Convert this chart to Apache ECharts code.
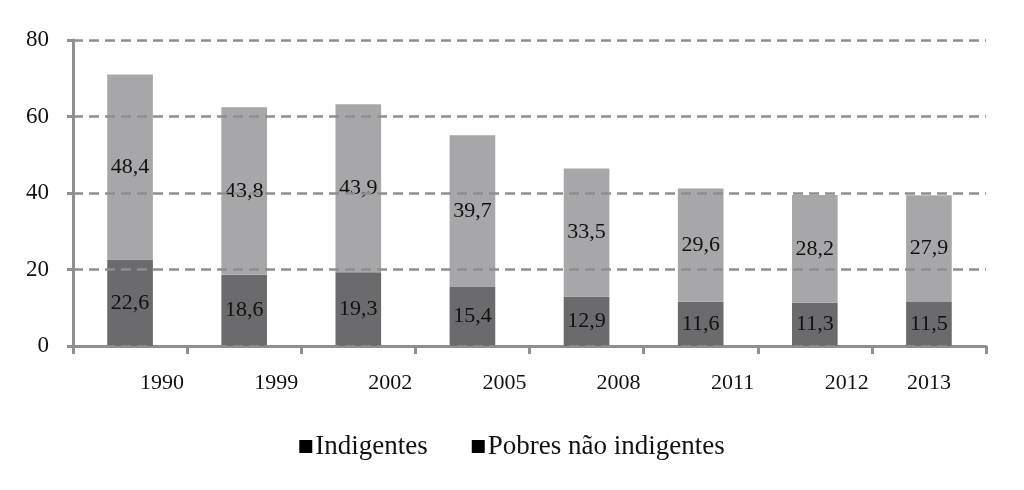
<!DOCTYPE html>
<html><head><meta charset="utf-8">
<script src="https://cdn.jsdelivr.net/npm/echarts@6/dist/echarts.min.js"></script>
<style>html,body{margin:0;padding:0;background:#fff}#c{width:1024px;height:490px}</style>
</head><body><div id="c"></div>
<script>
const categories = ['1990','1999','2002','2005','2008','2011','2012','2013'];
const indigentes = [22.6,18.6,19.3,15.4,12.9,11.6,11.3,11.5];
const pobres = [48.4,43.8,43.9,39.7,33.5,29.6,28.2,27.9];
const yTicks = [0,20,40,60,80];
const seriesNames = ['Indigentes','Pobres não indigentes'];

const font = '"Liberation Serif", "DejaVu Serif", serif';
const fmt = p => String(p.value).replace('.', ',');
const chart = echarts.init(document.getElementById('c'));
chart.setOption({
  animation: false,
  textStyle: {fontFamily: font},
  grid: {left: 73, right: 38, top: 40, bottom: 144},
  legend: {
    bottom: 25, left: 'center', itemWidth: 13, itemHeight: 13, itemGap: 44,
    icon: 'rect',
    textStyle: {fontFamily: font, fontSize: 27, color: '#111', padding: [0,0,0,-2]},
    data: seriesNames.map(n => ({name: n, itemStyle: {color: '#000'}}))
  },
  xAxis: {
    type: 'category', data: categories,
    axisLine: {lineStyle: {color: '#8f8f8f', width: 3}},
    axisTick: {show: true, length: 8, lineStyle: {color: '#8f8f8f', width: 3}},
    axisLabel: {
      margin: 26, fontFamily: font, fontSize: 22, color: '#111',
      formatter: v => v === '2013' ? '{c|' + v + '}' : '{s|' + v + '}',
      rich: {s: {padding: [0,0,0,64], fontFamily: font, fontSize: 22, color: '#111'},
             c: {fontFamily: font, fontSize: 22, color: '#111'}}
    }
  },
  yAxis: {
    type: 'value', min: 0, max: 80, interval: 20, z: 5,
    axisLine: {show: true, lineStyle: {color: '#8f8f8f', width: 3}},
    axisTick: {show: true, length: 6, lineStyle: {color: '#8f8f8f', width: 3}},
    axisLabel: {margin: 24, fontFamily: font, fontSize: 23, color: '#111',
      formatter: v => yTicks.includes(v) ? String(v) : ''},
    splitLine: {show: true, lineStyle: {color: '#8f8f8f', width: 2.5, type: [10, 6]}}
  },
  series: [
    {name: seriesNames[0], type: 'bar', stack: 't', data: indigentes, barWidth: '40%', z: 2,
     itemStyle: {color: '#6b6b6d'},
     label: {show: true, position: 'inside', formatter: fmt, fontFamily: font, fontSize: 22, color: '#111'}},
    {name: seriesNames[1], type: 'bar', stack: 't', data: pobres, barWidth: '40%', z: 2,
     itemStyle: {color: '#a7a7a9'},
     label: {show: true, position: 'inside', formatter: fmt, fontFamily: font, fontSize: 22, color: '#111'}}
  ]
});
</script></body></html>
